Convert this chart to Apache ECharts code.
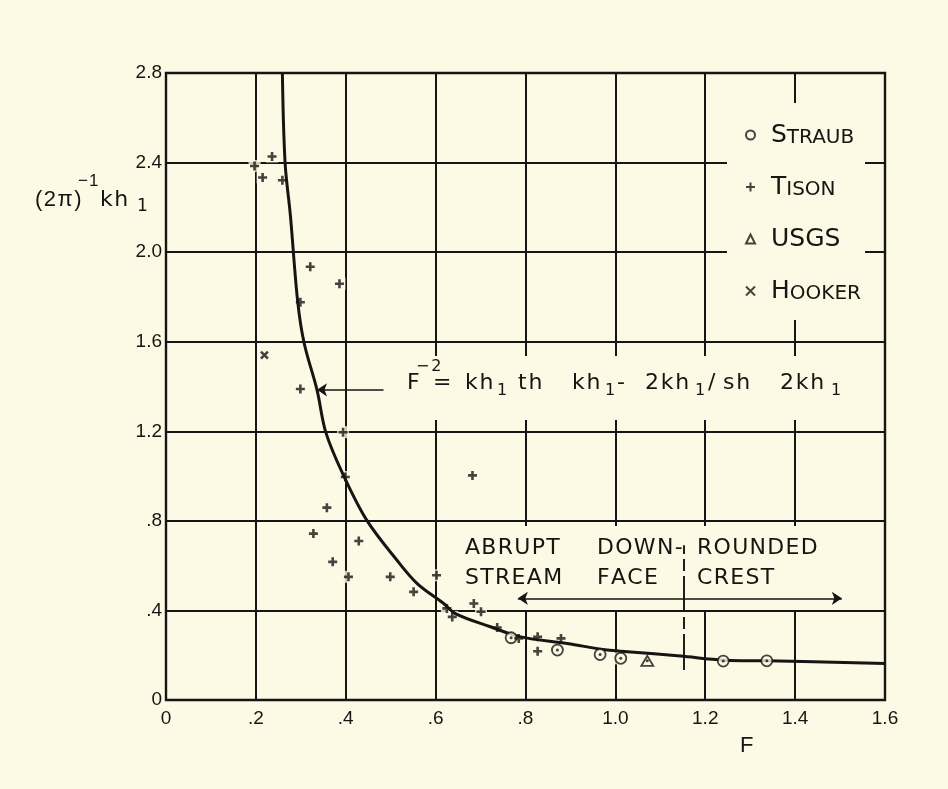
<!DOCTYPE html>
<html>
<head>
<meta charset="utf-8">
<script src="https://cdn.jsdelivr.net/npm/echarts@6/dist/echarts.min.js"></script>
<style>
  html, body { margin: 0; padding: 0; background: #fcf9e4; }
  #chart { width: 948px; height: 789px; }
</style>
</head>
<body>
<div id="chart"></div>
<script>
// Axis tick labels
const xTickLabels = ['0', '.2', '.4', '.6', '.8', '1.0', '1.2', '1.4', '1.6'];
const yTickLabels = ['0', '.4', '.8', '1.2', '1.6', '2.0', '2.4', '2.8'];

// Measured points: [F, (2π)^-1 kh1]
const straub = [[0.768, 0.278], [0.871, 0.223], [0.966, 0.203], [1.012, 0.186], [1.240, 0.174], [1.337, 0.175]];
const tison = [
  [0.197, 2.385], [0.236, 2.427], [0.215, 2.333], [0.259, 2.321],
  [0.321, 1.935], [0.386, 1.859], [0.299, 1.776], [0.299, 1.389],
  [0.394, 1.196], [0.399, 0.996], [0.682, 1.003],
  [0.358, 0.859], [0.328, 0.743], [0.429, 0.710], [0.371, 0.617],
  [0.406, 0.550], [0.499, 0.550], [0.551, 0.483], [0.602, 0.557],
  [0.625, 0.409], [0.637, 0.371], [0.685, 0.431], [0.701, 0.394],
  [0.737, 0.324], [0.785, 0.275], [0.827, 0.282], [0.879, 0.275], [0.827, 0.218]
];
const usgs = [[1.071, 0.175]];
const hooker = [[0.219, 1.540]];

// Theory curve F^-2 = kh1 th kh1 - 2kh1 / sh 2kh1, as drawn
const curve = [
  [0.259, 2.80], [0.265, 2.40], [0.277, 2.16], [0.293, 1.78], [0.3075, 1.593],
  [0.336, 1.385], [0.356, 1.193], [0.395, 1.003], [0.447, 0.802], [0.514, 0.624],
  [0.559, 0.520], [0.618, 0.431], [0.644, 0.386], [0.722, 0.327], [0.789, 0.282],
  [0.893, 0.252], [0.982, 0.223], [1.027, 0.216], [1.145, 0.196], [1.242, 0.178],
  [1.339, 0.175], [1.600, 0.163]
];

const seriesNames = ['STRAUB', 'TISON', 'USGS', 'HOOKER'];

const INK = '#151513';
const PAPER = '#fcf9e4';
const LETTER = '"DejaVu Sans", sans-serif';
const NUMERAL = '"Liberation Sans", Arial, sans-serif';

const chart = echarts.init(document.getElementById('chart'), null, { renderer: 'canvas' });

// Lay out a string one glyph at a time with extra tracking between glyphs
const measureCtx = document.createElement('canvas').getContext('2d');
function spaced(str, x, y, size, gap, family) {
  const font = size + 'px ' + (family || LETTER);
  measureCtx.font = font;
  const out = [];
  let cx = x;
  for (const ch of str) {
    if (ch !== ' ') {
      out.push({
        type: 'text', x: cx, y: y, z: 6, silent: true,
        style: { text: ch, font: font, fill: INK, align: 'left', verticalAlign: 'middle',
                 textAlign: 'left', textVerticalAlign: 'middle' }
      });
    }
    cx += measureCtx.measureText(ch).width + gap;
  }
  return out;
}

// Paper-coloured patches where the grid is left open for lettering
function patch(x, y, w, h) {
  return { type: 'rect', z: 1, silent: true, shape: { x: x, y: y, width: w, height: h }, style: { fill: PAPER } };
}

// Formula lettering: [text, left, role]
const formulaParts = [
  ['F', 407, 'main'], ['−2', 416, 'sup'], ['=', 433, 'main'],
  ['kh', 465, 'main'], ['1', 497, 'sub'], ['th', 518, 'main'],
  ['kh', 572, 'main'], ['1', 605, 'sub'], ['-', 617, 'main'],
  ['2kh', 645, 'main'], ['1', 695, 'sub'], ['/', 708, 'main'], ['sh', 723, 'main'],
  ['2kh', 780, 'main'], ['1', 831, 'sub']
];
const roleStyle = { main: { y: 383, size: 22 }, sup: { y: 367, size: 16 }, sub: { y: 391, size: 16 } };

let graphics = [
  patch(727, 103, 138, 217),   // legend field
  patch(400, 356, 482, 64),    // formula field
  patch(445, 526, 437, 84)     // flow-regime field
];
formulaParts.forEach(([t, x, role]) => {
  graphics = graphics.concat(spaced(t, x, roleStyle[role].y, roleStyle[role].size, 1.8));
});

// Flow regime lettering
[['ABRUPT', 465, 548], ['DOWN-', 597, 548], ['ROUNDED', 697, 548],
 ['STREAM', 465, 578], ['FACE', 597, 578], ['CREST', 697, 578]].forEach(([t, x, y]) => {
  graphics = graphics.concat(spaced(t, x, y, 22, 1.3));
});

// Axis titles
graphics = graphics.concat(spaced('(2π)', 35, 200, 22, 1.5, NUMERAL));
graphics = graphics.concat(spaced('−1', 78, 181, 17, 1, NUMERAL));
graphics = graphics.concat(spaced('kh', 100, 200, 22, 1.5, LETTER));
graphics = graphics.concat(spaced('1', 137, 207, 17, 0, LETTER));
graphics = graphics.concat(spaced('F', 740, 746, 22, 0, NUMERAL));

const hollow = { color: PAPER, borderColor: INK, borderWidth: 1.8 };
const stroked = { color: INK, borderColor: INK, borderWidth: 2.6 };

chart.setOption({
  animation: false,
  backgroundColor: PAPER,
  grid: { left: 166, right: 63, top: 73, bottom: 89, show: true, borderColor: INK, borderWidth: 2.4, backgroundColor: 'transparent' },
  xAxis: {
    type: 'value', min: 0, max: 1.6, interval: 0.2,
    axisLine: { show: false }, axisTick: { show: false },
    splitLine: { show: true, lineStyle: { color: INK, width: 2 } },
    axisLabel: { margin: 9, color: INK, fontSize: 19, fontFamily: NUMERAL,
                 formatter: v => xTickLabels[Math.round(v / 0.2)] }
  },
  yAxis: {
    type: 'value', min: 0, max: 2.8, interval: 0.4,
    axisLine: { show: false }, axisTick: { show: false },
    splitLine: { show: true, lineStyle: { color: INK, width: 2 } },
    axisLabel: { margin: 4, color: INK, fontSize: 19, fontFamily: NUMERAL,
                 formatter: v => yTickLabels[Math.round(v / 0.4)] }
  },
  legend: {
    data: seriesNames, orient: 'vertical', left: 740, top: 118,
    itemWidth: 9, itemHeight: 9, itemGap: 27, selectedMode: false,
    formatter: name => name === 'USGS'
      ? '{pad| }{big|USGS}'
      : '{pad| }{big|' + name[0] + '}{small|' + name.slice(1) + '}',
    textStyle: {
      color: INK,
      rich: {
        pad: { width: 11 },
        big: { fontSize: 25, fontFamily: LETTER, color: INK, lineHeight: 26, verticalAlign: 'bottom' },
        small: { fontSize: 20, fontFamily: LETTER, color: INK, lineHeight: 26, verticalAlign: 'bottom' }
      }
    }
  },
  graphic: graphics,
  series: [
    {
      // keeps the grid open around each plotted symbol
      name: 'clearance', type: 'scatter', z: 1, silent: true,
      symbol: 'rect', symbolSize: 12, itemStyle: { color: PAPER },
      data: [].concat(straub, tison, usgs, hooker)
    },
    {
      name: 'theory', type: 'line', z: 2, silent: true, smooth: 0.35,
      showSymbol: false, symbol: 'none',
      lineStyle: { color: INK, width: 3 },
      data: curve,
      markLine: {
        silent: true, animation: false, symbol: ['none', 'none'], symbolSize: 10,
        label: { show: false },
        lineStyle: { color: INK, width: 1.7, type: 'solid' },
        data: [
          [{ coord: [0.783, 0.454], symbol: 'arrow' }, { coord: [1.504, 0.454], symbol: 'arrow' }],
          [{ coord: [0.484, 1.385], symbol: 'none' }, { coord: [0.336, 1.385], symbol: 'arrow' }],
          [{ coord: [1.152, 0.134], symbol: 'none', lineStyle: { type: [36, 5, 12, 5], width: 1.9 } },
           { coord: [1.152, 0.691], symbol: 'none' }]
        ]
      }
    },
    { name: 'STRAUB', type: 'scatter', z: 3, symbol: 'circle', symbolSize: 11, itemStyle: hollow, data: straub },
    { name: 'TISON', type: 'scatter', z: 3, symbol: 'path://M0,5L10,5M5,0L5,10', symbolSize: 9, itemStyle: stroked, data: tison },
    { name: 'USGS', type: 'scatter', z: 3, symbol: 'triangle', symbolSize: [12, 10], itemStyle: hollow, data: usgs },
    { name: 'HOOKER', type: 'scatter', z: 3, symbol: 'path://M0,0L10,10M10,0L0,10', symbolSize: 7, itemStyle: stroked, data: hooker },
    {
      // centre dots of the circle and triangle symbols
      name: 'centres', type: 'scatter', z: 4, silent: true,
      symbol: 'circle', symbolSize: 3, itemStyle: { color: INK },
      data: [].concat(straub, usgs)
    }
  ]
});
</script>
</body>
</html>
